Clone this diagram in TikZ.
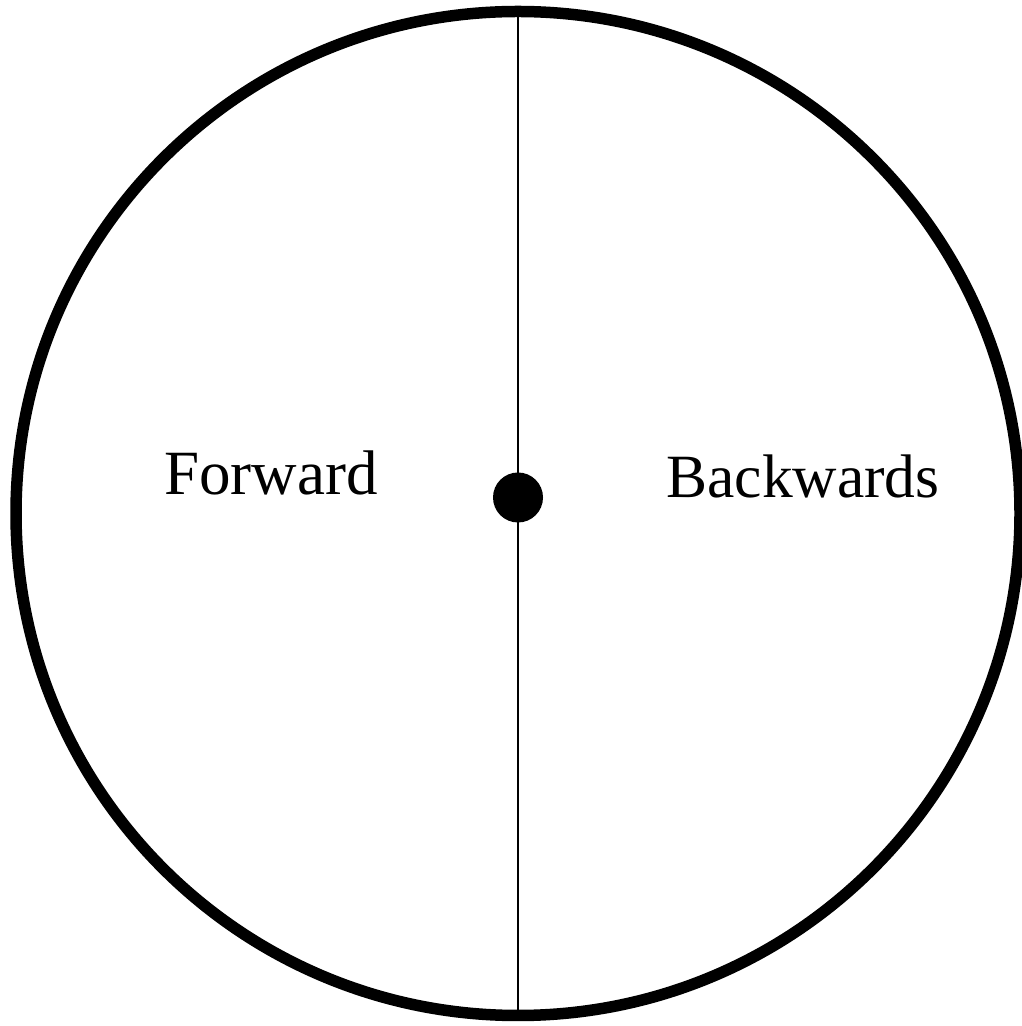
\documentclass[tikz,border=0pt]{standalone}
\usepackage{fontspec}
\setmainfont{Liberation Serif}
\begin{document}
\begin{tikzpicture}[x=1pt,y=1pt,
  lbl/.style={anchor=base,inner sep=0pt,font=\fontsize{63}{70}\selectfont},
  lblb/.style={anchor=base,inner sep=0pt,font=\fontsize{61.5}{70}\selectfont},
  hub/.style={circle,fill=black,inner sep=0pt,minimum size=50pt}]
\useasboundingbox (0,0) rectangle (1021,1026);
\coordinate (c) at (518,512.5);
\coordinate (top) at (518,1009);
\coordinate (bot) at (518,14);
\draw[line width=1.5pt] (top) -- (bot);
\draw[line width=11.5pt] (c) circle (502);
\node[hub] (dot) at (518,528.5) {};
\node[lbl] (fw) at (271,531) {Forward};
\node[lblb] (bw) at (803,528) {Backwards};
\end{tikzpicture}
\end{document}
